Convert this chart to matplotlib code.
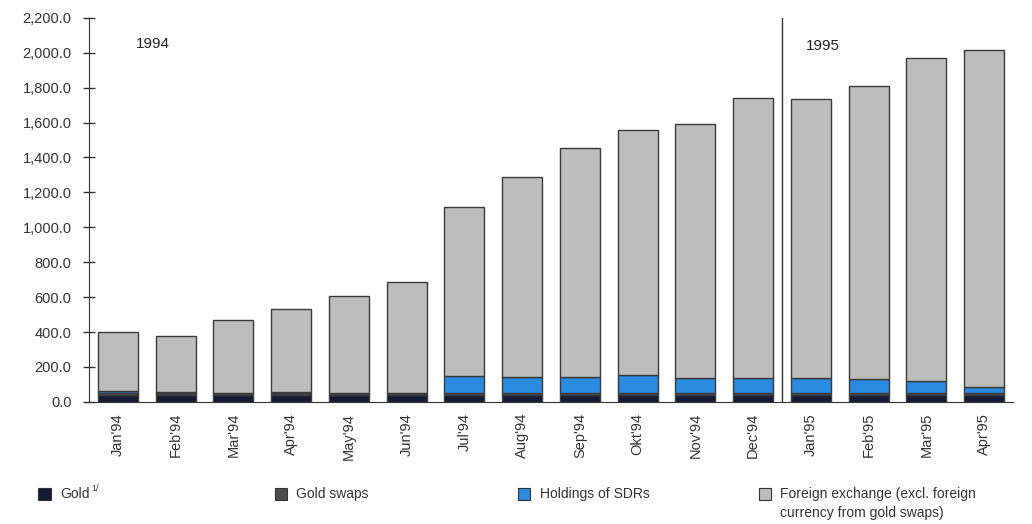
import numpy as np
import matplotlib.pyplot as plt
from matplotlib.patches import Rectangle

plt.rcParams['font.family'] = ['Liberation Sans', 'DejaVu Sans']

months = ["Jan'94", "Feb'94", "Mar'94", "Apr'94", "May'94", "Jun'94",
          "Jul'94", "Aug'94", "Sep'94", "Okt'94", "Nov'94", "Dec'94",
          "Jan'95", "Feb'95", "Mar'95", "Apr'95"]
total = [401, 380, 470, 530, 608, 688, 1117, 1290, 1456, 1560,
         1594, 1742, 1736, 1810, 1971, 2017]
gold = [40, 40, 40, 40, 40, 40, 40, 40, 40, 40, 40, 40, 40, 40, 40, 40]
gold_swaps = [10, 10, 10, 10, 10, 10, 10, 10, 10, 10, 10, 10, 10, 10, 10, 10]
sdr = [15, 4, 2, 9, 3, 3, 99, 95, 95, 103, 89, 86, 86, 82, 70, 38]
# foreign exchange is what is left of the total reserves
fx = [t - g - s - d for t, g, s, d in zip(total, gold, gold_swaps, sdr)]

series = [gold, gold_swaps, sdr, fx]
colors = ['#131a36', '#4d4d47', '#2b8be0', '#bdbdb9']
names = ['Gold', 'Gold swaps', 'Holdings of SDRs',
         'Foreign exchange (excl. foreign\ncurrency from gold swaps)']

fig = plt.figure(figsize=(10.32, 5.24), dpi=100)
ax = fig.add_axes([0.0862, 0.233, 0.8954, 0.733])

x = np.arange(len(months))
bottom = np.zeros(len(months))
for vals, c in zip(series, colors):
    ax.bar(x, vals, 0.69, bottom=bottom, color=c, edgecolor='#3a3a3a',
           linewidth=1.0)
    bottom += np.array(vals)

ax.set_xlim(-0.5, 15.5)
ax.set_ylim(0, 2200)
ax.set_yticks(np.arange(0, 2201, 200))
ax.set_yticklabels(['{:,.1f}'.format(v) for v in np.arange(0, 2201, 200)],
                   fontsize=10.5, color='#333333')
ax.set_xticks(x)
ax.set_xticklabels(months, rotation=90, fontsize=10.5, color='#333333')
ax.tick_params(axis='y', direction='inout', length=9, width=1, pad=8,
               color='#333333')
ax.tick_params(axis='x', length=0, pad=8)
for s in ['top', 'right']:
    ax.spines[s].set_visible(False)
for s in ['left', 'bottom']:
    ax.spines[s].set_color('#333333')

# year divider
ax.axvline(11.5, ymin=0, ymax=1.0, color='#333333', linewidth=1)
ax.text(0.6, 2050, '1994', fontsize=11, color='#222222', ha='center',
        va='center')
ax.text(12.2, 2040, '1995', fontsize=11, color='#222222', ha='center',
        va='center')

# legend row along the bottom
leg_x = [0.037, 0.266, 0.502, 0.735]
for lx, c, n in zip(leg_x, colors, names):
    fig.add_artist(Rectangle((lx, 0.045), 0.012, 0.024,
                             transform=fig.transFigure, facecolor=c,
                             edgecolor='#333333', linewidth=0.8))
    fig.text(lx + 0.021, 0.057 if '\n' not in n else 0.057, n.split('\n')[0],
             fontsize=10, color='#333333', va='center')
    if '\n' in n:
        fig.text(lx + 0.021, 0.021, n.split('\n')[1], fontsize=10,
                 color='#333333', va='center')
fig.text(leg_x[0] + 0.0515, 0.067, '1/', fontsize=6.5, color='#333333',
         va='center')

fig.savefig('out.png', dpi=100)
